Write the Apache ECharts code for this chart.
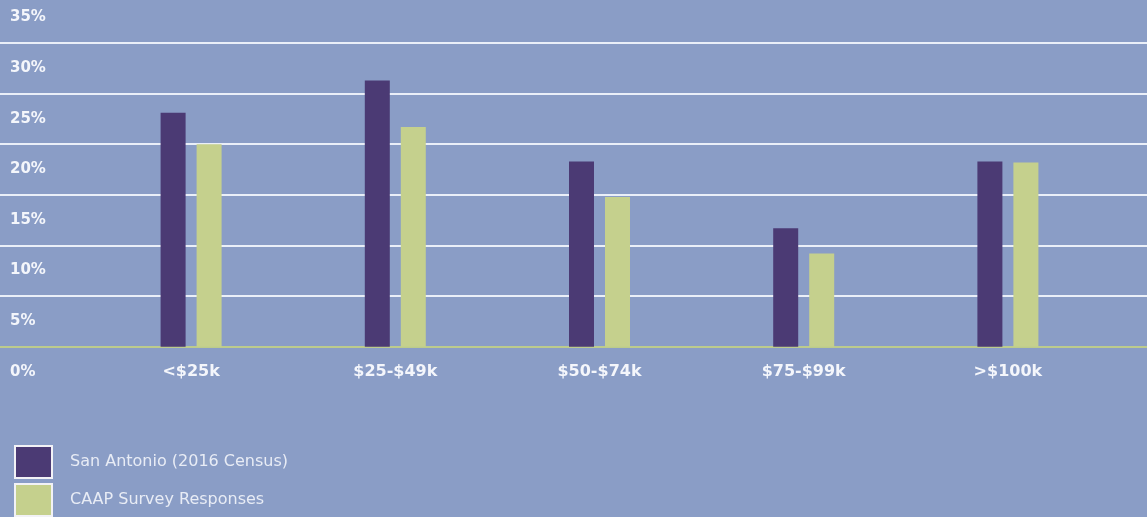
<!DOCTYPE html>
<html>
<head>
<meta charset="utf-8">
<style>
  html, body { margin: 0; padding: 0; background: #8a9dc6; overflow: hidden; }
  #wrap { position: relative; width: 1147px; height: 517px; overflow: hidden; }
  #chart { position: absolute; left: 0; top: -8px; width: 1147px; height: 525px; }
</style>
<script src="https://cdn.jsdelivr.net/npm/echarts@6/dist/echarts.min.js"></script>
</head>
<body>
<div id="wrap"><div id="chart"></div></div>
<script>
const categories = ['<$25k', '$25-$49k', '$50-$74k', '$75-$99k', '>$100k'];
const censusName = 'San Antonio (2016 Census)';
const surveyName = 'CAAP Survey Responses';
const censusValues = [23.1, 26.3, 18.3, 11.7, 18.3];
const surveyValues = [20.0, 21.7, 14.8, 9.2, 18.2];
const yMin = 0, yMax = 35, yStep = 5;

const chart = echarts.init(document.getElementById('chart'), null, { renderer: 'canvas' });
const gridTop = 0.4, gridBottom = 170.3;
const legendBase = {
  orient: 'vertical', left: 14, padding: 0, itemWidth: 37, itemHeight: 32,
  icon: 'rect',
  itemStyle: { borderColor: '#f2f2f6', borderWidth: 2 },
  textStyle: { color: '#e8ecf5', fontFamily: 'DejaVu Sans', fontSize: 16, padding: [2, 0, 0, 13] }
};
chart.setOption({
  backgroundColor: '#8a9dc6',
  animation: false,
  grid: [
    { left: 0, right: 0, top: gridTop, bottom: gridBottom },
    { left: 89, right: 37, top: gridTop, bottom: gridBottom }
  ],
  xAxis: [
    { gridIndex: 0, type: 'value', min: 0, max: 1,
      axisLine: { show: true, lineStyle: { color: '#bccb8c', width: 2 } },
      axisTick: { show: false }, axisLabel: { show: false }, splitLine: { show: false } },
    { gridIndex: 1, type: 'category', data: categories,
      axisLine: { show: false }, axisTick: { show: false },
      axisLabel: { color: '#f4f6fb', fontFamily: 'DejaVu Sans', fontWeight: 'bold', fontSize: 16, margin: 17 } }
  ],
  yAxis: [
    { gridIndex: 0, type: 'value', min: yMin, max: yMax, interval: yStep,
      axisLine: { show: false }, axisTick: { show: false },
      splitLine: { show: true, lineStyle: { color: 'rgba(242,246,252,0.92)', width: 2 } },
      axisLabel: { inside: true, align: 'left', margin: 10, color: '#f4f6fb',
        fontFamily: 'DejaVu Sans', fontWeight: 'bold', fontSize: 15,
        verticalAlign: 'top', lineHeight: 50,
        formatter: '{value}%' } },
    { gridIndex: 1, type: 'value', min: yMin, max: yMax, interval: yStep, show: false,
      splitLine: { show: false } }
  ],
  legend: [
    Object.assign({}, legendBase, { top: 453, data: [censusName] }),
    Object.assign({}, legendBase, { top: 491, data: [surveyName] })
  ],
  series: [
    { name: censusName, type: 'bar', xAxisIndex: 1, yAxisIndex: 1, data: censusValues,
      barWidth: 25, barGap: '44%', itemStyle: { color: '#4b3a74' } },
    { name: surveyName, type: 'bar', xAxisIndex: 1, yAxisIndex: 1, data: surveyValues,
      barWidth: 25, barGap: '44%', itemStyle: { color: '#c5d08d' } }
  ]
});
</script>
</body>
</html>
